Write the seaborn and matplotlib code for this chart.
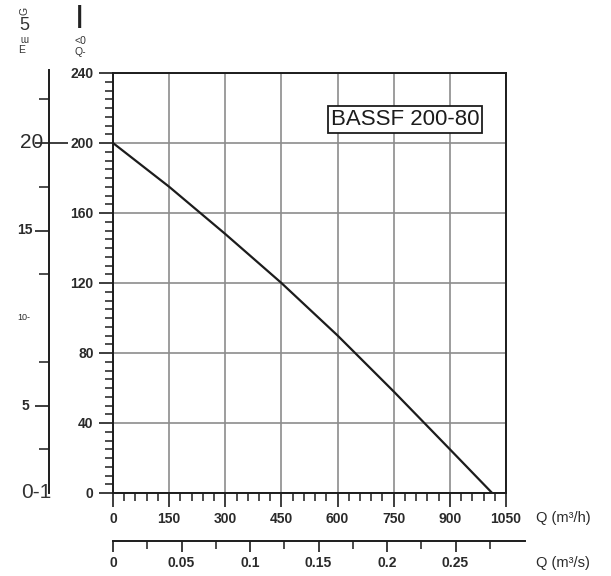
import pandas as pd
import numpy as np
import matplotlib
matplotlib.use("Agg")
import matplotlib.pyplot as plt
import matplotlib.transforms as mtransforms
from matplotlib.ticker import MultipleLocator, FixedLocator
import seaborn as sns

sns.set_theme(style="white")
plt.rcParams['font.family'] = ['Liberation Sans', 'DejaVu Sans']

#----------------------------------
# Data
#----------------------------------
q_m3h = [0, 150, 300, 450, 600, 750, 900, 1013]
head = [200, 175, 148, 120, 90, 58, 25, 0]

x_ticks = [0, 150, 300, 450, 600, 750, 900, 1050]
y_ticks = [0, 40, 80, 120, 160, 200, 240]
qs_ticks = [0, 0.05, 0.1, 0.15, 0.2, 0.25]
qs_labels = ["0", "0.05", "0.1", "0.15", "0.2", "0.25"]
left_ticks = [5, 15, 20]
left_labels = ["5", "10-", "15", "20"]
left_label_vals = [5, 10, 15, 20]
model_name = "BASSF 200-80"

W, H = 611, 576
INK = '#1c1c1c'
LABEL = '#2a2a2a'


def fx(px):
    return px / W


def fy(py):
    return 1 - py / H


fig = plt.figure(figsize=(W / 100, H / 100), dpi=100)

#----------------------------------
# Main chart
#----------------------------------
ax = fig.add_axes([fx(113), fy(493), (506 - 113) / W, (493 - 73) / H])
df = pd.DataFrame({"Q": q_m3h, "H": head})
sns.lineplot(data=df, x="Q", y="H", color=INK, lw=1.6, ax=ax, zorder=3)

ax.set_xlim(0, 1050)
ax.set_ylim(0, 240)
ax.set_xticks(x_ticks)
ax.set_yticks(y_ticks)
ax.xaxis.set_minor_locator(MultipleLocator(30))
ax.yaxis.set_minor_locator(MultipleLocator(5))
ax.set_xlabel("")
ax.set_ylabel("")
ax.grid(True, which='major', color='#8c8c8c', lw=1.2, zorder=1)
for s in ax.spines.values():
    s.set_color(INK)
    s.set_linewidth(1.4)
ax.tick_params(which='both', bottom=True, left=True, top=False, right=False,
               direction='out', color=INK)
ax.tick_params(which='major', length=10, width=1.2, labelsize=10,
               labelcolor=LABEL, pad=4)
ax.tick_params(which='minor', length=6, width=1.1)
for lab in ax.get_xticklabels() + ax.get_yticklabels():
    lab.set_fontweight('bold')

ax.text(781, 213.4, model_name, ha='center', va='center', fontsize=16,
        color=INK, zorder=4,
        bbox=dict(boxstyle='square,pad=0.12', fc='white', ec=INK, lw=1.3))

fig.text(fx(536), fy(518), "Q (m³/h)", ha='left', va='center', fontsize=10.5, color=LABEL)

#----------------------------------
# Second flow axis (m3/s)
#----------------------------------
ax_s = fig.add_axes([fx(113), fy(541), (525 - 113) / W, 0.0001])
ax_s.set_facecolor('none')
ax_s.set_xlim(0, 0.3007)
ax_s.set_yticks([])
ax_s.set_xticks(qs_ticks)
ax_s.set_xticklabels(qs_labels, fontweight='bold')
ax_s.xaxis.set_minor_locator(FixedLocator([0.025, 0.075, 0.125, 0.175, 0.225, 0.275]))
for name in ['left', 'right', 'top']:
    ax_s.spines[name].set_visible(False)
ax_s.spines['bottom'].set_color(INK)
ax_s.spines['bottom'].set_linewidth(1.4)
ax_s.tick_params(which='both', bottom=True, direction='out', color=INK)
ax_s.tick_params(which='major', length=8, width=1.2, labelsize=10,
                 labelcolor=LABEL, pad=3)
ax_s.tick_params(which='minor', length=6, width=1.1)

fig.text(fx(536), fy(563), "Q (m³/s)", ha='left', va='center', fontsize=10.5, color=LABEL)

#----------------------------------
# Left secondary head axis
#----------------------------------
ax_l = fig.add_axes([fx(49), fy(493), 19 / W, (493 - 70) / H])
ax_l.set_facecolor('none')
ax_l.set_ylim(0, (493 - 70) / 17.5)
ax_l.set_xticks([])
ax_l.set_yticks(left_ticks)
ax_l.set_yticklabels([])
ax_l.yaxis.set_minor_locator(FixedLocator([2.5, 7.5, 12.5, 17.5, 22.5]))
for name in ['right', 'top', 'bottom']:
    ax_l.spines[name].set_visible(False)
ax_l.spines['left'].set_color(INK)
ax_l.spines['left'].set_linewidth(1.4)
ax_l.tick_params(which='both', left=True, direction='out', color=INK)
ax_l.tick_params(which='major', length=10, width=1.2)
ax_l.tick_params(which='minor', length=7, width=1.1)
ax_l.axhline(20, xmin=0, xmax=1, color=INK, lw=1.2)

tl = mtransforms.blended_transform_factory(fig.transFigure, ax_l.transData)
label_right = [29, 30, 33, 43]
label_size = [10, 6.5, 10, 15]
label_weight = ['bold', 'normal', 'bold', 'normal']
for lab, val, xr, fs, fw in zip(left_labels, left_label_vals, label_right,
                                label_size, label_weight):
    ax_l.text(fx(xr), val, lab, transform=tl, ha='right', va='center',
              fontsize=fs, color=LABEL, fontweight=fw)
ax_l.text(fx(21), 0, "0-1", transform=tl, ha='left', va='center',
          fontsize=15, color='#333333')

#----------------------------------
# Scanned label fragments (top left)
#----------------------------------
fig.text(fx(24), fy(11), "G", rotation=90, ha='center', va='center', fontsize=7.5, color='#333333')
fig.text(fx(24), fy(25), "5", ha='center', va='center', fontsize=13, color='#333333')
fig.text(fx(24), fy(38), "m", rotation=180, ha='center', va='center', fontsize=7, color='#333333')
fig.text(fx(22), fy(50), "E", ha='center', va='center', fontsize=7.5, color='#333333')
fig.text(fx(80), fy(19), "I", ha='center', va='center', fontsize=24, color='#222222')
fig.text(fx(80), fy(41), "<0", ha='center', va='center', fontsize=7.5, color='#333333')
fig.text(fx(80), fy(52), "Q-", ha='center', va='center', fontsize=7.5, color='#333333')

fig.savefig("out.png", dpi=100)
